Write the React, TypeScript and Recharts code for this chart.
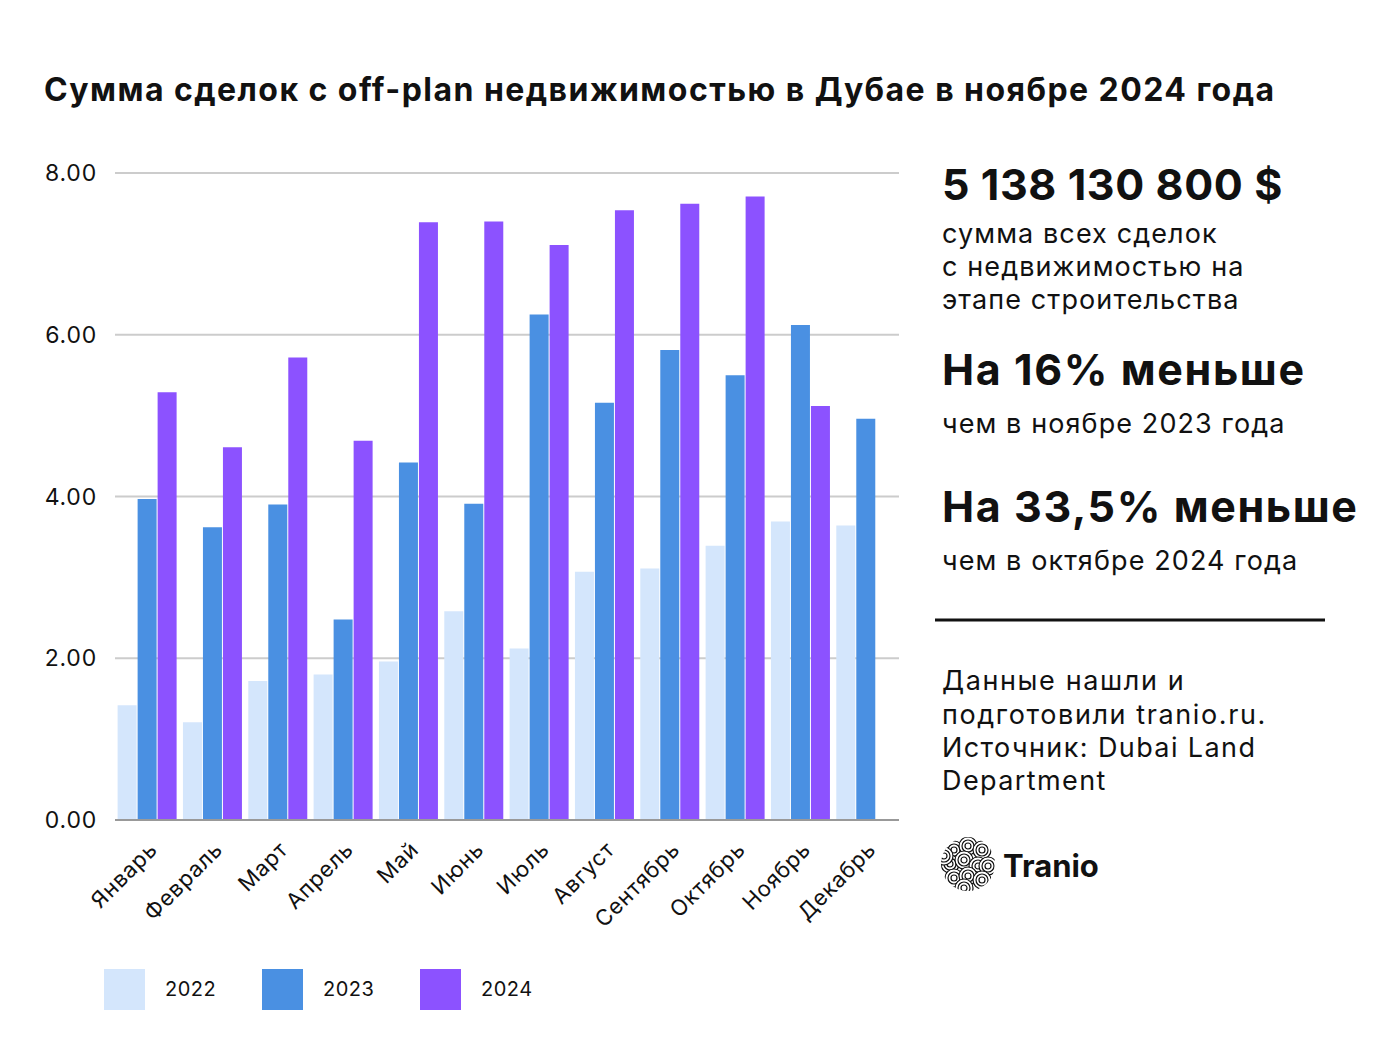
import React from 'react';
import { BarChart, Bar, XAxis, YAxis, CartesianGrid } from 'recharts';

const months = [
  'Январь', 'Февраль', 'Март', 'Апрель', 'Май', 'Июнь',
  'Июль', 'Август', 'Сентябрь', 'Октябрь', 'Ноябрь', 'Декабрь'
];
const values2022 = [1.42, 1.21, 1.72, 1.8, 1.96, 2.58, 2.12, 3.07, 3.11, 3.39, 3.69, 3.64];
const values2023 = [3.97, 3.62, 3.9, 2.48, 4.42, 3.91, 6.25, 5.16, 5.81, 5.5, 6.12, 4.96];
const values2024 = [5.29, 4.61, 5.72, 4.69, 7.39, 7.4, 7.11, 7.54, 7.62, 7.71, 5.12, null];
const yTicks = [0, 2, 4, 6, 8];

const series = [
  { key: 'y2022', name: '2022', color: '#D4E6FC', values: values2022 },
  { key: 'y2023', name: '2023', color: '#4A90E2', values: values2023 },
  { key: 'y2024', name: '2024', color: '#8C52FF', values: values2024 }
];

const data = months.map((month, i) => ({
  month,
  y2022: values2022[i],
  y2023: values2023[i],
  y2024: values2024[i]
}));

const FONT = 'Inter, "Noto Sans", sans-serif';

const TranioLogo = () => {
  // rough take on the swirl ball
  const spots = [
    [-14, -14], [0, -18], [14, -14], [-18, 0], [-4, -4], [10, 2],
    [20, 2], [-14, 14], [0, 12], [14, 16], [-4, 24], [-24, -8]
  ];
  return (
    <g transform="translate(968,864)">
      <defs>
        <clipPath id="ball">
          <circle cx={0} cy={0} r={27} />
        </clipPath>
      </defs>
      <g clipPath="url(#ball)" fill="none" stroke="#111" strokeWidth={1.2}>
        {spots.map(([x, y], i) => (
          <g key={i}>
            <circle cx={x} cy={y} r={9} fill="#fff" />
            <circle cx={x} cy={y} r={6} />
            <circle cx={x} cy={y} r={3} />
          </g>
        ))}
      </g>
    </g>
  );
};

const body = { fontSize: 27, letterSpacing: 1.1, fill: '#111' };
const big = { fontSize: 43, fontWeight: 700, letterSpacing: 1.6, fill: '#111' };

export default function App() {
  return (
    <div style={{ position: 'absolute', left: 0, top: 0, width: 1386, height: 1040, background: '#fff', fontFamily: FONT }}>
      <div style={{ position: 'absolute', left: 0, top: 0 }}>
        <BarChart
          width={910}
          height={1040}
          data={data}
          margin={{ top: 173, right: 11, left: 0, bottom: 120 }}
          barCategoryGap="4%"
          barGap={1}
        >
          <CartesianGrid vertical={false} stroke="#cccccc" strokeWidth={2} />
          <XAxis
            dataKey="month"
            height={100}
            interval={0}
            axisLine={{ stroke: '#999999', strokeWidth: 2 }}
            tickLine={false}
            tickMargin={14}
            angle={-45}
            textAnchor="end"
            tick={{ fontSize: 22, fill: '#111', fontFamily: FONT, letterSpacing: 0.8 }}
          />
          <YAxis
            width={115}
            domain={[0, 8]}
            ticks={yTicks}
            axisLine={false}
            tickLine={false}
            tickSize={0}
            tickMargin={18}
            tickFormatter={(v: number) => v.toFixed(2)}
            tick={{ fontSize: 23, fill: '#111', fontFamily: FONT, letterSpacing: 0.8 }}
          />
          {series.map(s => (
            <Bar key={s.key} dataKey={s.key} name={s.name} fill={s.color} isAnimationActive={false} />
          ))}
        </BarChart>
      </div>

      <svg width={1386} height={1040} style={{ position: 'absolute', left: 0, top: 0, pointerEvents: 'none' }} fontFamily={FONT}>
        <text x={44} y={101} fontSize={32} fontWeight={700} letterSpacing={1.45} fill="#111">
          Сумма сделок с off-plan недвижимостью в Дубае в ноябре 2024 года
        </text>

        <text x={942} y={200} {...big} letterSpacing={0.6}>5 138 130 800 $</text>
        <text x={942} y={243} {...body}>сумма всех сделок</text>
        <text x={942} y={276} {...body}>с недвижимостью на</text>
        <text x={942} y={309} {...body}>этапе строительства</text>

        <text x={942} y={385} {...big}>На 16% меньше</text>
        <text x={942} y={433} {...body}>чем в ноябре 2023 года</text>

        <text x={942} y={522} {...big}>На 33,5% меньше</text>
        <text x={942} y={570} {...body}>чем в октябре 2024 года</text>

        <line x1={935} x2={1325} y1={620} y2={620} stroke="#111" strokeWidth={3} />

        <text x={942} y={690} {...body} letterSpacing={1.6}>Данные нашли и</text>
        <text x={942} y={724} {...body} letterSpacing={1.6}>подготовили tranio.ru.</text>
        <text x={942} y={757} {...body} letterSpacing={1.4}>Источник: Dubai Land</text>
        <text x={942} y={790} {...body} letterSpacing={1.4}>Department</text>

        <TranioLogo />
        <text x={1003} y={877} fontSize={31} fontWeight={700} fill="#111">Tranio</text>

        {series.map((s, i) => {
          const x = 104 + i * 158;
          return (
            <g key={s.key}>
              <rect x={x} y={969} width={41} height={41} fill={s.color} />
              <text x={x + 61} y={996} fontSize={20} letterSpacing={0.5} fill="#111">{s.name}</text>
            </g>
          );
        })}
      </svg>
    </div>
  );
}
